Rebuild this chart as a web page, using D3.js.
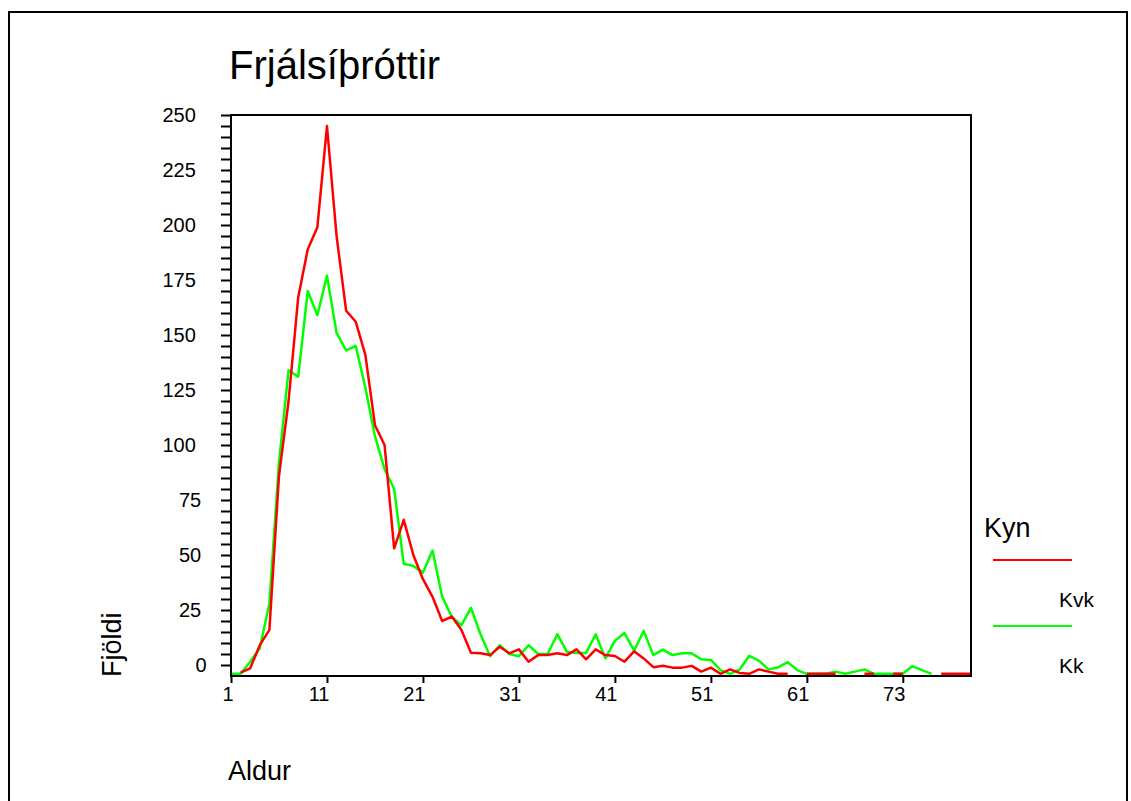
<!DOCTYPE html>
<html>
<head>
<meta charset="utf-8">
<script src="https://cdn.jsdelivr.net/npm/d3@7"></script>
<style>
body { margin: 0; background: #fff; }
text { font-family: "Liberation Sans", Arial, sans-serif; fill: #000; }
</style>
</head>
<body>
<svg id="chart" width="1131" height="801"></svg>
<script>
// ages on the category axis (two ages missing between 61 and 73)
var ages = d3.range(1, 62).concat([63, 64, 65, 66, 68, 69, 70, 71, 72, 73, 74, 75, 76, 77, 78, 79, 80]);
var ageTicks = [1, 11, 21, 31, 41, 51, 61, 73];
var yTicks = d3.range(0, 251, 5);

// Kvk (red), null where nothing was drawn
var kvk = [null, -3.5, -1.5, 9, 16, 86, 120, 167, 189, 199,
	245, 195, 161, 156, 141, 109, 100, 53, 66, 50,
	39, 31, 20, 22, 16, 5.6, 5.3, 4.5, 8.3, 5.3,
	7.1, 1.5, 4.5, 4.5, 5.3, 4.5, 7.1, 2.6, 7.1, 4.5,
	4.1, 1.5, 6.2, 3, -1, -0.3, -1.2, -1.2, -0.4, -3,
	-1.2, -4, -2, -3.6, -4, -2, -3, -4, -4, null,
	-4, -4, -4, -4, null, null, -4, -4, null, -4,
	-4, null, null, null, -4, -4, -4, -4];

// Kk (green)
var kk = [-4, -4, 1.5, 7.6, 28, 92, 134, 131, 170, 159,
	177, 151, 143, 145, 126, 104, 89, 80, 46, 45,
	42, 52, 31, 22, 18, 26, 14, 4, 9, 5,
	4, 9, 5, 5, 14, 6, 5.5, 5.5, 14, 3,
	11, 14.5, 6.5, 15.5, 4.5, 7, 4.5, 5.3, 5.3, 2.6,
	2.3, -2.3, -4, -2, 4.2, 2, -2, -1.1, 1.3, -2.3,
	-4, -4, -4, -3, -4, -3, -2, -4, -4, -4,
	-4, -0.5, -2.3, -4, null, null, null, null];

var seriesNames = ["Kvk", "Kk"];
var seriesColors = ["#ff0000", "#00ff00"];

var svg = d3.select("#chart");

// outer frame
svg.append("rect")
	.attr("x", 9).attr("y", 12)
	.attr("width", 1118).attr("height", 900)
	.attr("fill", "none").attr("stroke", "#000").attr("stroke-width", 2);

var plotLeft = 231, plotRight = 971, plotTop = 115, plotBottom = 676;

var x = d3.scalePoint()
	.domain(ages.map(String))
	.range([plotLeft, plotRight - 1]);
var y = d3.scaleLinear()
	.domain([-5, 250])
	.range([plotBottom, plotTop]);

svg.append("text")
	.attr("x", 229).attr("y", 79)
	.style("font-size", "40px")
	.text("Frjálsíþróttir");

// y axis
var yAxis = d3.axisLeft(y)
	.tickValues(yTicks)
	.tickSize(10)
	.tickFormat(function (d) { return d % 25 === 0 ? d : ""; });
var gy = svg.append("g")
	.attr("transform", "translate(" + plotLeft + ",0)")
	.call(yAxis);
gy.select(".domain").remove();
gy.selectAll("line").attr("stroke", "#000").attr("stroke-width", 2);
// labels start further left the more digits they have, as in the original
gy.selectAll("text")
	.style("font-size", "20px")
	.attr("font-family", null)
	.attr("text-anchor", "start")
	.attr("x", function (d) { return -19 - 16.5 * String(d).length; });

// x axis
var xAxis = d3.axisBottom(x)
	.tickValues(ageTicks.map(String))
	.tickSize(7)
	.tickPadding(4);
var gx = svg.append("g")
	.attr("transform", "translate(0," + plotBottom + ")")
	.call(xAxis);
gx.select(".domain").remove();
gx.selectAll("line").attr("stroke", "#000").attr("stroke-width", 2);
gx.selectAll("text")
	.style("font-size", "20px")
	.attr("font-family", null)
	.attr("text-anchor", "end")
	.attr("dx", "2");

// lines, green first so red sits on top
var line = d3.line()
	.defined(function (d) { return d.v !== null; })
	.x(function (d) { return x(String(d.age)); })
	.y(function (d) { return y(d.v); });

[kk, kvk].forEach(function (vals, k) {
	var pts = ages.map(function (a, i) { return {age: a, v: vals[i]}; });
	svg.append("path")
		.datum(pts)
		.attr("fill", "none")
		.attr("stroke", k === 0 ? seriesColors[1] : seriesColors[0])
		.attr("stroke-width", 2.5)
		.attr("stroke-linejoin", "round")
		.attr("d", line);
});

// plot frame
svg.append("rect")
	.attr("x", plotLeft).attr("y", plotTop)
	.attr("width", plotRight - plotLeft).attr("height", plotBottom - plotTop)
	.attr("fill", "none").attr("stroke", "#000").attr("stroke-width", 2);

// axis titles
svg.append("text")
	.attr("transform", "translate(121,677) rotate(-90)")
	.style("font-size", "27px")
	.text("Fjöldi");
svg.append("text")
	.attr("x", 228).attr("y", 780)
	.style("font-size", "27px")
	.text("Aldur");

// legend
svg.append("text")
	.attr("x", 984).attr("y", 537)
	.style("font-size", "27px")
	.text("Kyn");
seriesNames.forEach(function (name, i) {
	var ly = 560 + i * 66;
	svg.append("line")
		.attr("x1", 993).attr("x2", 1072)
		.attr("y1", ly).attr("y2", ly)
		.attr("stroke", seriesColors[i]).attr("stroke-width", 2);
	svg.append("text")
		.attr("x", 1059).attr("y", ly + 47)
		.style("font-size", "21px")
		.text(name);
});
</script>
</body>
</html>
